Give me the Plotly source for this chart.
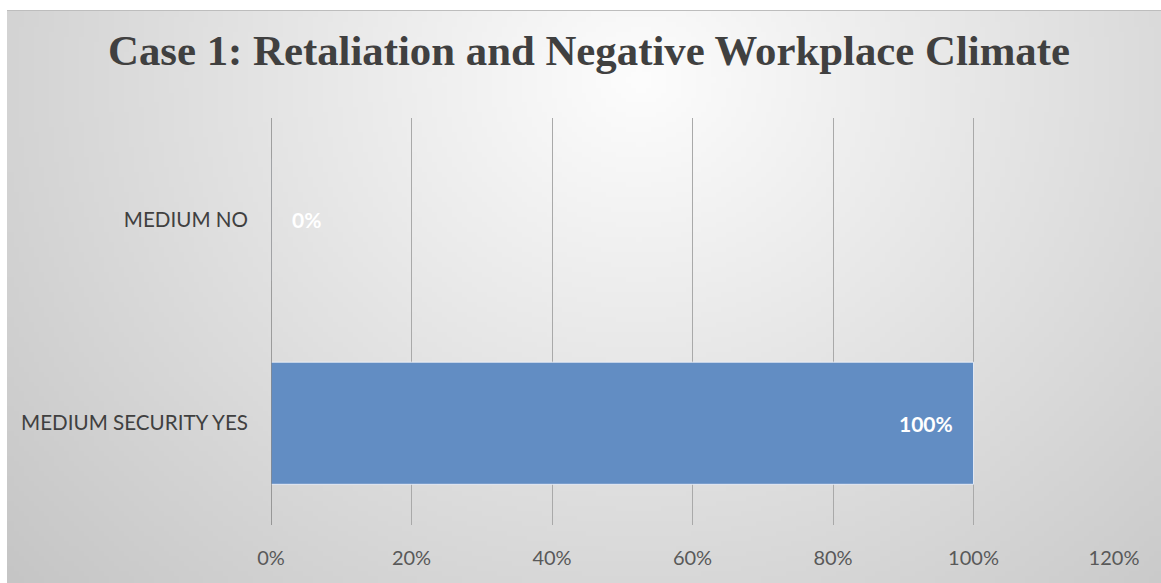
import base64, struct, zlib, math
import plotly.graph_objects as go

categories = ["MEDIUM SECURITY YES", "MEDIUM NO"]
values = [1.0, 0.0]
labels = ["100%", "0%"]
tick_vals = [0, 0.2, 0.4, 0.6, 0.8, 1.0, 1.2]
tick_text = ["0%", "20%", "40%", "60%", "80%", "100%", "120%"]

W, H = 1161, 583
ML, MR, MT, MB = 271, 47, 118, 58
PW, PH = W - ML - MR, H - MT - MB

# radial gradient background (png, generated)
gw, gh = 232, 115
bx0, by0, bx1, by1 = 7, 10, 1161, 583
def png_gray(w, h, fn):
    raw = bytearray()
    for j in range(h):
        raw.append(0)
        for i in range(w):
            raw.append(fn(i, j))
    def chunk(t, d):
        c = struct.pack(">I", len(d)) + t + d
        return c + struct.pack(">I", zlib.crc32(t + d) & 0xffffffff)
    return (b"\x89PNG\r\n\x1a\n" + chunk(b"IHDR", struct.pack(">IIBBBBB", w, h, 8, 0, 0, 0, 0))
            + chunk(b"IDAT", zlib.compress(bytes(raw), 9)) + chunk(b"IEND", b""))
def grad(i, j):
    px = bx0 + (i + 0.5) / gw * (bx1 - bx0)
    py = by0 + (j + 0.5) / gh * (by1 - by0)
    d = math.hypot((px - 640) / 700, (py - 80) / 620)
    d = min(d, 1.25)
    return int(max(190, min(252, 253 - 46 * d)))
img = "data:image/png;base64," + base64.b64encode(png_gray(gw, gh, grad)).decode()

fig = go.Figure(go.Bar(
    y=categories, x=values, orientation="h",
    marker=dict(color="#628dc3", line=dict(color="rgba(235,240,248,0.9)", width=1)),
    width=0.6, hoverinfo="x+y",
))

label_font = dict(family="Lato", size=21, color="white", weight="bold")
for cat, v, lab in zip(categories, values, labels):
    if v > 0.05:
        fig.add_annotation(x=v, y=cat, xref="x", yref="y", text=lab, showarrow=False,
                           xanchor="right", xshift=-19, font=label_font)
    else:
        fig.add_annotation(x=v, y=cat, xref="x", yref="y", text=lab, showarrow=False,
                           xanchor="left", xshift=19, font=label_font)

fig.update_layout(
    width=W, height=H,
    margin=dict(l=ML, r=MR, t=MT, b=MB),
    paper_bgcolor="white", plot_bgcolor="rgba(0,0,0,0)",
    showlegend=False,
    title=dict(text="<b>Case 1: Retaliation and Negative Workplace Climate</b>",
               x=(589) / W, xanchor="center", y=1 - 50 / H, yanchor="middle",
               font=dict(family="Liberation Serif", size=42.8, color="#404040")),
    images=[dict(source=img, xref="paper", yref="paper",
                 x=(bx0 - ML) / PW, y=(H - MB - by0) / PH,
                 sizex=(bx1 - bx0) / PW, sizey=(by1 - by0) / PH,
                 xanchor="left", yanchor="top", sizing="stretch", layer="below")],
    shapes=[dict(type="line", xref="paper", yref="paper",
                 x0=(bx0 - ML) / PW, x1=(bx1 - ML) / PW,
                 y0=(H - MB - by0 - 0.5) / PH, y1=(H - MB - by0 - 0.5) / PH,
                 line=dict(color="#bdbdbd", width=1), layer="below")],
)
fig.update_xaxes(range=[0, 1.2], tickvals=tick_vals, ticktext=tick_text,
                 showgrid=True, gridcolor="#a9a9a9", gridwidth=1,
                 zeroline=False, showline=False, ticks="",
                 tickfont=dict(family="Lato", size=20, color="#595959"),
                 ticklabelstandoff=19)
fig.update_yaxes(showgrid=False, zeroline=False, showline=False, ticks="",
                 tickfont=dict(family="Lato", size=20.6, color="#404040"),
                 ticklabelstandoff=22)
fig.add_shape(type="line", xref="x", yref="paper", x0=0, x1=0, y0=0, y1=1,
              line=dict(color="#5a5a5a", width=1), layer="above")

fig.write_html("out.html")
